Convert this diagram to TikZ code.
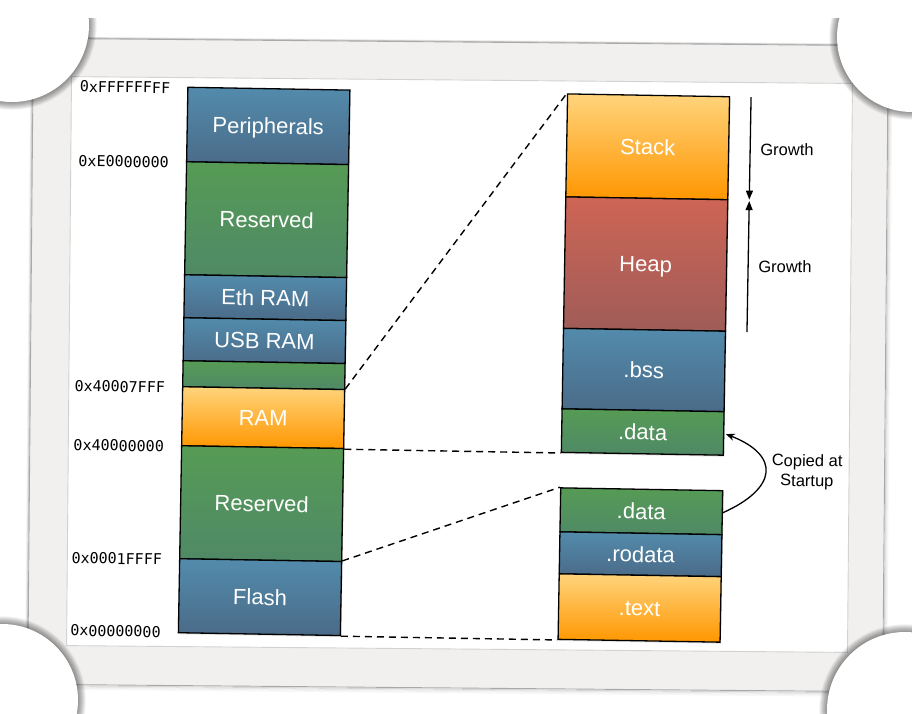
\documentclass[tikz,border=0pt]{standalone}
\usepackage{fontspec}
\setmainfont{Liberation Sans}
\newfontfamily\addrfont{DejaVu Sans Mono}
\usetikzlibrary{arrows.meta,shadows}

\definecolor{segblueA}{HTML}{538BAC}
\definecolor{segblueB}{HTML}{4A6B88}
\definecolor{seggreenA}{HTML}{569B55}
\definecolor{seggreenB}{HTML}{4F8966}
\definecolor{segorangeA}{HTML}{FFD47C}
\definecolor{segorangeB}{HTML}{FF9600}
\definecolor{segredA}{HTML}{CE6555}
\definecolor{segredB}{HTML}{9F5C58}
\definecolor{frameband}{HTML}{F1F0EE}
\definecolor{frameedge}{HTML}{A9A9A9}
\definecolor{frameinner}{HTML}{D2D2D2}

\tikzset{
  seg/.style={draw=black, line width=1.3pt, inner sep=0pt, minimum width=162pt,
    drop shadow={opacity=0.25, shadow xshift=1pt, shadow yshift=-1.5pt}},
  blueseg/.style={seg, top color=segblueA, bottom color=segblueB},
  greenseg/.style={seg, top color=seggreenA, bottom color=seggreenB},
  orangeseg/.style={seg, top color=segorangeA, bottom color=segorangeB},
  redseg/.style={seg, top color=segredA, bottom color=segredB},
  lbl/.style={font=\fontsize{22}{26}\selectfont, inner sep=0pt,
    text height=15.8pt, text depth=0pt, text=white},
  addr/.style={anchor=west, inner sep=0pt, font=\addrfont\fontsize{15}{18}\selectfont},
  note/.style={font=\fontsize{16.5}{20}\selectfont, align=center, inner sep=0pt},
  mapline/.style={dash pattern=on 7pt off 5pt, line width=1.4pt},
  growarrow/.style={line width=1.3pt, -{Triangle[length=9pt,width=7pt]}},
  copyarrow/.style={line width=1.3pt, -{Stealth[length=9pt,width=7pt]}, shorten >=1.5pt},
}

% white label centred on a segment
\newcommand\seglabel[2]{\node[lbl] (#1-name) at (#1.center) {#2};}

\begin{document}
\begin{tikzpicture}[x=1pt, y=-1pt]
\useasboundingbox (0,0) rectangle (912,713);
\fill[white] (0,0) rectangle (912,713);

% photo frame
\begin{scope}[rotate around={-0.5:(458,365)}]
  \foreach \d/\o in {1/0.16,2/0.09,3/0.05,4/0.03}
    \draw[black, opacity=\o, line width=1pt] (30.5-\d*0.6,42-\d*0.4) rectangle (885.5+\d,688+\d*1.2);
  \fill[frameband, even odd rule] (30.5,42) rectangle (885.5,688) (69,80) rectangle (850,649);
  \draw[frameedge, line width=0.9pt] (30.5,42) rectangle (885.5,688);
  \draw[frameinner, line width=0.9pt] (69,80) rectangle (850,649);
\end{scope}

% round corner mounts holding the frame, each with a soft shadow
\begin{scope}
  \clip (0,18) rectangle (912,713);
  \foreach \cx/\cy/\r in {12/25/77, 912/37/75, 2/700/76, 905/710/78} {
    \foreach \k in {1,...,12}
      \fill[black, opacity=0.04] (\cx,\cy) circle[radius={(\r+0.65*\k)*1pt}];
  }
\end{scope}
\foreach \cx/\cy/\r in {12/25/77, 912/37/75, 2/700/76, 905/710/78}
  \fill[white] (\cx,\cy) circle[radius={\r*1pt}];

\begin{scope}[rotate around={-1:(456,356)}, transform shape]
  % processor memory map
  \node[blueseg,   minimum height=74.5pt] (periph) at (264.25,129.25) {};
  \node[greenseg,  minimum height=113pt]  (resHi)  at (264.25,223) {};
  \node[blueseg,   minimum height=43pt]   (eth)    at (264.25,301) {};
  \node[blueseg,   minimum height=43pt]   (usb)    at (264.25,344) {};
  \node[greenseg,  minimum height=26pt]   (ramgap) at (264.25,378.5) {};
  \node[orangeseg, minimum height=59pt]   (ram)    at (264.25,421) {};
  \node[greenseg,  minimum height=113pt]  (resLo)  at (264.25,507) {};
  \node[blueseg,   minimum height=74pt]   (flash)  at (264.25,600.5) {};

  % RAM contents
  \node[orangeseg, minimum height=103pt]   (stack)   at (644,143.5) {};
  \node[redseg,    minimum height=131.5pt] (heap)    at (644,260.75) {};
  \node[blueseg,   minimum height=80.5pt]  (bss)     at (644,366.75) {};
  \node[greenseg,  minimum height=43.5pt]  (ramdata) at (644,428.75) {};

  % Flash contents
  \node[greenseg,  minimum height=44pt]    (romdata) at (644,508) {};
  \node[blueseg,   minimum height=42pt]    (rodata)  at (644,551) {};
  \node[orangeseg, minimum height=65.5pt]  (textseg) at (644,604.75) {};

  \seglabel{periph}{Peripherals}
  \seglabel{resHi}{Reserved}
  \seglabel{eth}{Eth RAM}
  \seglabel{usb}{USB RAM}
  \seglabel{ram}{RAM}
  \seglabel{resLo}{Reserved}
  \seglabel{flash}{Flash}
  \seglabel{stack}{Stack}
  \seglabel{heap}{Heap}
  \seglabel{bss}{.bss}
  \seglabel{ramdata}{.data}
  \seglabel{romdata}{.data}
  \seglabel{rodata}{.rodata}
  \seglabel{textseg}{.text}

  % addresses
  \node[addr] (aTop)      at (75,93)    {0xFFFFFFFF};
  \node[addr] (aPeriph)   at (75,167.5) {0xE0000000};
  \node[addr] (aRamTop)   at (75,392.5) {0x40007FFF};
  \node[addr] (aRamBase)  at (75,451.5) {0x40000000};
  \node[addr] (aFlashTop) at (75,564.5) {0x0001FFFF};
  \node[addr] (aZero)     at (75,637)   {0x00000000};

  % zoom lines
  \draw[mapline] (ram.north east)   -- (stack.north west);
  \draw[mapline] (ram.south east)   -- (ramdata.south west);
  \draw[mapline] (flash.north east) -- (romdata.north west);
  \draw[mapline] (flash.south east) -- (textseg.south west);

  % stack and heap growth
  \coordinate (stackTop) at (746.5,92);
  \coordinate (splitA)   at (746.5,194.5);
  \coordinate (splitB)   at (746.5,196);
  \coordinate (heapBase) at (746.5,327);
  \draw[growarrow] (stackTop) -- (splitA);
  \draw[growarrow] (heapBase) -- (splitB);
  \node[note] (growS) at (783.4,144) {Growth};
  \node[note] (growH) at (783.4,261) {Growth};

  % initialised data copied from Flash to RAM
  \draw[copyarrow] (romdata.east) .. controls (779,483) and (783,450) .. (ramdata.east);
  \node[note] (copied) at (809,466) {Copied at\\Startup};
\end{scope}
\end{tikzpicture}
\end{document}
